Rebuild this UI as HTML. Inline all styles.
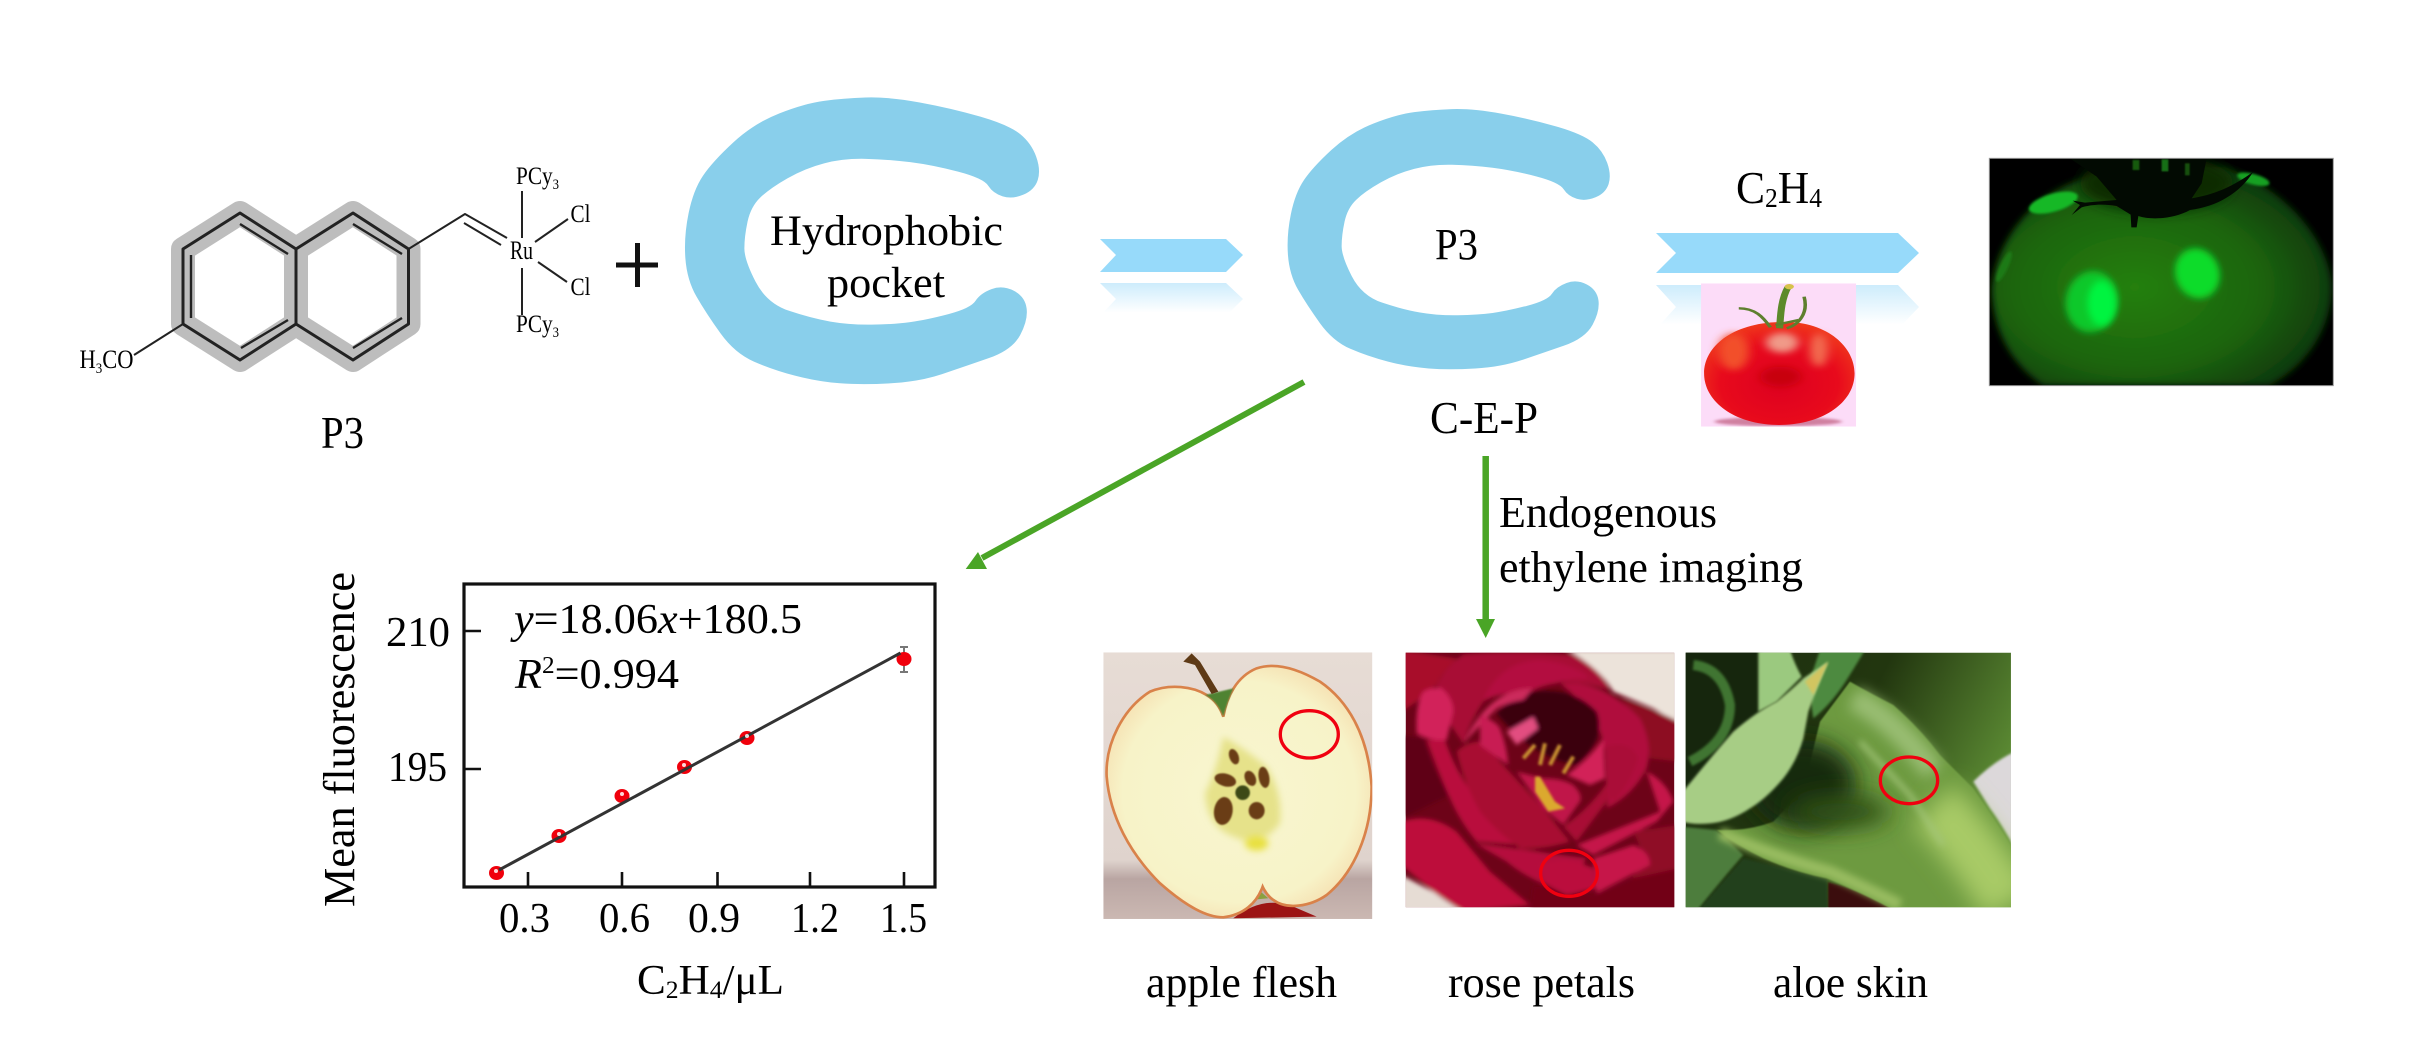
<!DOCTYPE html>
<html><head><meta charset="utf-8"><style>
html,body{margin:0;padding:0;background:#fff}
svg{display:block}
text{font-family:"Liberation Serif",serif;fill:#000}
</style></head><body>
<svg xmlns="http://www.w3.org/2000/svg" width="2410" height="1063" viewBox="0 0 2410 1063">
<defs>
<path id="c" d="M385,52.5Q420,50 470,67.5Q520,85 565,110Q610,135 627.5,162.5Q645,190 652.5,230Q660,270 655,300Q650,330 632.5,344Q615,358 600,349Q585,340 577.5,317.5Q570,295 530,275Q490,255 455,246.5Q420,238 385,236.5Q350,235 320,250Q290,265 262.5,295Q235,325 220,352.5Q205,380 200,425Q195,470 195,505Q195,540 212.5,605Q230,670 265,692.5Q300,715 330,725Q360,735 395,734Q430,733 455,726.5Q480,720 515,702.5Q550,685 557.5,662.5Q565,640 582.5,627.5Q600,615 617.5,632.5Q635,650 637.5,685Q640,720 627.5,765Q615,810 577.5,835Q540,860 505,882.5Q470,905 425,910Q380,915 345,910Q310,905 275,887.5Q240,870 210,845Q180,820 157.5,760Q135,700 120,650Q105,600 102.5,535Q100,470 107.5,400Q115,330 130,287.5Q145,245 177.5,187.5Q210,130 250,100Q290,70 320,62.5Q350,55 385,52.5Z"/>
<linearGradient id="fade" x1="0" y1="0" x2="0" y2="1"><stop offset="0" stop-color="#cdecfc"/><stop offset=".9" stop-color="#fff"/></linearGradient>
<radialGradient id="tom" cx=".5" cy=".6" r=".6"><stop offset="0" stop-color="#dd0020"/><stop offset=".65" stop-color="#e80a1c"/><stop offset="1" stop-color="#f0381c"/></radialGradient>
<radialGradient id="dome" cx=".42" cy=".55" r=".62"><stop offset="0" stop-color="#25800f"/><stop offset=".6" stop-color="#1c640c"/><stop offset="1" stop-color="#0d3406"/></radialGradient>
<linearGradient id="abg" x1="0" y1="0" x2="1" y2=".4"><stop offset="0" stop-color="#1d2f10"/><stop offset=".55" stop-color="#22360f"/><stop offset="1" stop-color="#5b8a33"/></linearGradient>
<linearGradient id="appbg" x1="0" y1="0" x2="0" y2="1"><stop offset="0" stop-color="#e7dcd5"/><stop offset=".78" stop-color="#dfd3cd"/><stop offset=".85" stop-color="#b9a5a2"/><stop offset="1" stop-color="#cbb8b2"/></linearGradient>
<radialGradient id="appf" cx=".5" cy=".5" r=".55"><stop offset="0" stop-color="#f8f6d0"/><stop offset=".8" stop-color="#f7f3c8"/><stop offset="1" stop-color="#f6dfb0"/></radialGradient>
<filter id="b2" x="-30%" y="-30%" width="160%" height="160%"><feGaussianBlur stdDeviation="2"/></filter>
<filter id="b4" x="-30%" y="-30%" width="160%" height="160%"><feGaussianBlur stdDeviation="4"/></filter>
<filter id="b6" x="-5%" y="-5%" width="110%" height="110%"><feGaussianBlur stdDeviation="6"/></filter>
<filter id="b10" x="-50%" y="-50%" width="200%" height="200%"><feGaussianBlur stdDeviation="10"/></filter>
<filter id="b20" x="-60%" y="-60%" width="220%" height="220%"><feGaussianBlur stdDeviation="20"/></filter>
<filter id="b35" x="-80%" y="-80%" width="260%" height="260%"><feGaussianBlur stdDeviation="35"/></filter>
<clipPath id="cpApple"><rect x="130" y="97" width="807" height="800"/></clipPath>
<clipPath id="cpRose"><rect x="17" y="23" width="806" height="764"/></clipPath>
<clipPath id="cpAloe"><rect x="17" y="23" width="976" height="764"/></clipPath>
<clipPath id="cpFl"><rect x="58" y="55" width="1032" height="682"/></clipPath>
<clipPath id="cpTom"><rect x="394" y="490" width="304" height="430"/></clipPath>
</defs>

<!-- Molecule -->
<g fill="none" stroke-linejoin="round">
<path d="M240,213L296,249L353,213L408.5,249L408.5,324L353,360L296,324L240,360L183,324L183,249Z M296,249L296,324" stroke="#bdbdbd" stroke-width="24"/>
<path d="M240,213L296,249L353,213L408.5,249L408.5,324L353,360L296,324L240,360L183,324L183,249Z M296,249L296,324" stroke="#222" stroke-width="3"/>
<path d="M240,224L288,254M191,255L191,318M241,348L288,320M353,224L402,254M353,348L402,318" stroke="#222" stroke-width="2.4"/>
<path d="M408.5,249L465,214L507,238M464,223L501,245M522,191L522,238M522,268L522,315M535,242L568,219M538,262L567,282M134,355L183,324" stroke="#222" stroke-width="2"/>
</g>
<text x="510" y="259" font-size="26" textLength="23" lengthAdjust="spacingAndGlyphs" fill="#111">Ru</text>
<text x="516" y="184" font-size="25" textLength="43" lengthAdjust="spacingAndGlyphs">PCy<tspan font-size="15" dy="5">3</tspan></text>
<text x="516" y="332" font-size="25" textLength="43" lengthAdjust="spacingAndGlyphs">PCy<tspan font-size="15" dy="5">3</tspan></text>
<text x="570.5" y="222" font-size="25" textLength="20" lengthAdjust="spacingAndGlyphs">Cl</text>
<text x="570.5" y="295" font-size="25" textLength="20" lengthAdjust="spacingAndGlyphs">Cl</text>
<text x="79.5" y="368" font-size="26" textLength="54" lengthAdjust="spacingAndGlyphs">H<tspan font-size="15" dy="5">3</tspan><tspan dy="-5">CO</tspan></text>
<text x="321" y="448" font-size="46" textLength="43" lengthAdjust="spacingAndGlyphs">P3</text>
<path d="M616,265H658M637.5,243V287" stroke="#111" stroke-width="5" fill="none"/>

<!-- C shapes -->
<g fill="#89cfeb">
<use href="#c" transform="translate(620,80) scale(.6378,.3333)"/>
<use href="#c" transform="translate(620,80) scale(.6378,.3333) translate(1045,85) scale(.91,.9075) translate(-100,-50)"/>
</g>
<text x="770" y="245" font-size="43" textLength="233" lengthAdjust="spacingAndGlyphs">Hydrophobic</text>
<text x="827" y="297" font-size="43" textLength="118" lengthAdjust="spacingAndGlyphs">pocket</text>
<text x="1435" y="259" font-size="44" textLength="43" lengthAdjust="spacingAndGlyphs">P3</text>
<text x="1430" y="433" font-size="46" textLength="108" lengthAdjust="spacingAndGlyphs">C-E-P</text>

<!-- block arrows -->
<polygon points="1100,239 1226,239 1243,255 1226,272 1100,272 1116,255" fill="#97dafa"/>
<polygon points="1100,283 1226,283 1243,299 1226,316 1100,316 1116,299" fill="url(#fade)"/>
<polygon points="1656,233 1898,233 1919,253 1898,273 1656,273 1676,253" fill="#97dafa"/>
<polygon points="1656,285 1898,285 1919,307 1898,329 1656,329 1676,307" fill="url(#fade)"/>
<text x="1736" y="203" font-size="46" textLength="86" lengthAdjust="spacingAndGlyphs">C<tspan font-size="27" dy="4">2</tspan><tspan dy="-4">H</tspan><tspan font-size="27" dy="4">4</tspan></text>

<!-- Tomato -->
<g transform="translate(1500,120) scale(.5102,.3333)" clip-path="url(#cpTom)">
<rect x="394" y="490" width="304" height="430" fill="#fcdcf8"/>
<ellipse cx="545" cy="905" rx="125" ry="14" fill="#d080a0" filter="url(#b4)"/>
<path d="M547,606C640,600 695,680 695,760C695,850 630,915 547,915C465,915 400,850 400,760C400,680 455,610 547,606Z" fill="url(#tom)"/>
<ellipse cx="553" cy="668" rx="32" ry="30" fill="#f09a88" filter="url(#b10)"/>
<ellipse cx="458" cy="695" rx="30" ry="55" fill="#f2502a" filter="url(#b10)"/>
<ellipse cx="625" cy="690" rx="18" ry="50" fill="#f26a50" filter="url(#b10)"/>
<ellipse cx="550" cy="770" rx="40" ry="30" fill="#c80010" filter="url(#b10)"/>
<path d="M565,500C550,540 550,590 548,625" stroke="#5c8a2a" stroke-width="14" fill="none"/>
<path d="M468,565C500,565 515,590 530,622M596,530C605,580 585,615 562,625M540,615L585,600" stroke="#5e7f2e" stroke-width="7" fill="none"/>
<ellipse cx="567" cy="500" rx="9" ry="8" fill="#d6c24a"/>
</g>

<!-- Fluorescence image -->
<g transform="translate(1970,140) scale(.3333)">
<g clip-path="url(#cpFl)">
<rect x="58" y="55" width="1032" height="682" fill="#000"/>
<path d="M65,450C80,280 220,120 420,100L760,80C920,130 1070,280 1085,430C1090,560 1010,680 900,737L220,737C120,670 70,570 65,450Z" fill="url(#dome)" filter="url(#b10)"/>
<ellipse cx="560" cy="130" rx="230" ry="85" fill="#0a2a05" filter="url(#b20)"/>
<ellipse cx="365" cy="485" rx="78" ry="92" transform="rotate(10 365 485)" fill="#10c82c" filter="url(#b10)"/>
<ellipse cx="395" cy="490" rx="42" ry="68" fill="#04f440" filter="url(#b10)"/>
<ellipse cx="682" cy="400" rx="66" ry="76" transform="rotate(-20 682 400)" fill="#0bdc2c" filter="url(#b10)"/>
<ellipse cx="250" cy="188" rx="76" ry="27" transform="rotate(-16 250 188)" fill="#14b828" filter="url(#b4)"/>
<ellipse cx="850" cy="118" rx="50" ry="16" transform="rotate(15 850 118)" fill="#14a024" filter="url(#b4)"/>
<ellipse cx="102" cy="380" rx="12" ry="50" transform="rotate(25 102 380)" fill="#1f7a18" filter="url(#b4)"/>
<path d="M300,55L710,55L695,130L665,175C730,165 790,140 850,95C810,160 740,200 660,210C610,238 540,240 505,228L500,262L484,262L482,224L440,198C395,190 360,195 335,202L305,225L330,195L308,182L345,188L440,180L380,110Z" fill="#020a02"/>
<rect x="488" y="60" width="20" height="30" fill="#155a10" filter="url(#b2)"/><rect x="575" y="58" width="20" height="36" fill="#177012" filter="url(#b2)"/><rect x="645" y="70" width="14" height="36" fill="#125010" filter="url(#b2)"/>
</g>
<rect x="58" y="55" width="1032" height="682" fill="none" stroke="#999" stroke-width="3"/>
</g>

<!-- Green arrows -->
<path d="M1304,382L982,558" stroke="#4aa526" stroke-width="6" fill="none"/>
<polygon points="965.7,569 978,552 987,569" fill="#4aa526"/>
<path d="M1485.7,456V622" stroke="#4aa526" stroke-width="6.5" fill="none"/>
<polygon points="1476,619 1495,619 1485.7,638" fill="#4aa526"/>
<text x="1499" y="527" font-size="44" textLength="218" lengthAdjust="spacingAndGlyphs">Endogenous</text>
<text x="1499" y="582" font-size="44" textLength="304" lengthAdjust="spacingAndGlyphs">ethylene imaging</text>

<!-- Plot -->
<rect x="464" y="584" width="471" height="303" fill="#fff" stroke="#111" stroke-width="3.2"/>
<path d="M464,631H481M464,769H481M528,872V887M622,872V887M717.5,872V887M810,872V887M904,872V887" stroke="#111" stroke-width="2.6" fill="none"/>
<text x="386" y="646" font-size="42" textLength="64" lengthAdjust="spacingAndGlyphs">210</text>
<text x="388" y="781" font-size="42" textLength="59" lengthAdjust="spacingAndGlyphs">195</text>
<text x="499" y="932" font-size="42" textLength="51" lengthAdjust="spacingAndGlyphs">0.3</text>
<text x="599" y="932" font-size="42" textLength="51" lengthAdjust="spacingAndGlyphs">0.6</text>
<text x="688" y="932" font-size="42" textLength="52" lengthAdjust="spacingAndGlyphs">0.9</text>
<text x="791" y="932" font-size="42" textLength="48" lengthAdjust="spacingAndGlyphs">1.2</text>
<text x="880" y="932" font-size="42" textLength="47" lengthAdjust="spacingAndGlyphs">1.5</text>
<text x="637" y="994" font-size="42" textLength="147" lengthAdjust="spacingAndGlyphs">C<tspan font-size="25" dy="4">2</tspan><tspan dy="-4">H</tspan><tspan font-size="25" dy="4">4</tspan><tspan dy="-4">/μL</tspan></text>
<text transform="translate(354,907) rotate(-90)" font-size="44" textLength="335" lengthAdjust="spacingAndGlyphs">Mean fluorescence</text>
<text x="514" y="633" font-size="42" textLength="288" lengthAdjust="spacingAndGlyphs"><tspan font-style="italic">y</tspan>=18.06<tspan font-style="italic">x</tspan>+180.5</text>
<text x="515" y="688" font-size="42" textLength="164" lengthAdjust="spacingAndGlyphs"><tspan font-style="italic">R</tspan><tspan font-size="24" dy="-15">2</tspan><tspan dy="15">=0.994</tspan></text>
<path d="M904,647V672M900,647H908M900,672H908" stroke="#777" stroke-width="2" fill="none"/>
<g fill="#f0000c">
<ellipse cx="496.5" cy="873" rx="7.5" ry="7"/><ellipse cx="559" cy="836" rx="7.5" ry="7"/><ellipse cx="622" cy="796" rx="7.5" ry="7"/><ellipse cx="684.5" cy="767" rx="7.5" ry="7"/><ellipse cx="747" cy="738" rx="7.5" ry="7"/><ellipse cx="904" cy="659" rx="7.5" ry="7"/>
</g>
<path d="M499,870L900.5,653" stroke="#333" stroke-width="3" fill="none"/>
<g fill="#fff" opacity=".85"><circle cx="496" cy="871" r="2"/><circle cx="559" cy="834" r="2"/><circle cx="622" cy="794" r="2"/><circle cx="684" cy="765" r="2"/><circle cx="747" cy="736" r="2"/></g>

<!-- Apple -->
<g transform="translate(1060,620) scale(.3333)" clip-path="url(#cpApple)">
<rect x="130" y="97" width="807" height="800" fill="url(#appbg)"/>
<path d="M520,895Q610,825 700,860L770,890Z" fill="#9c1414"/>
<path d="M590,805L625,835L570,840Z" fill="#8aa040"/>
<path d="M490,290C500,230 530,170 590,145C650,125 720,150 780,185C860,240 925,340 935,500C935,640 880,760 800,825C750,860 680,870 640,840C625,830 615,815 608,800C590,850 550,885 490,892C440,892 380,860 300,790C210,700 150,590 140,470C135,370 190,265 270,215C330,190 400,200 440,225C465,240 480,260 490,290Z" fill="url(#appf)" stroke="#d9824a" stroke-width="8"/>
<path d="M435,225L520,205Q500,250 490,290Q470,240 435,225Z" fill="#4f8330" filter="url(#b2)"/>
<path d="M370,125L395,100L420,125L475,215L455,222L405,135Z" fill="#5e3a16"/>
<path d="M490,350Q560,390 620,440Q670,520 660,610Q600,690 520,650Q440,620 435,520Q470,450 490,350Z" fill="#e6e28a" filter="url(#b10)"/>
<ellipse cx="590" cy="670" rx="35" ry="22" fill="#e8e040" filter="url(#b10)"/>
<ellipse cx="548" cy="518" rx="22" ry="22" fill="#3d4a15" filter="url(#b2)"/>
<g fill="#6a3d16" filter="url(#b2)">
<ellipse cx="522" cy="410" rx="14" ry="24" transform="rotate(-20 522 410)"/>
<ellipse cx="496" cy="480" rx="33" ry="19" transform="rotate(15 496 480)"/>
<ellipse cx="571" cy="475" rx="16" ry="24" transform="rotate(-25 571 475)"/>
<ellipse cx="612" cy="472" rx="16" ry="32" transform="rotate(-10 612 472)"/>
<ellipse cx="490" cy="573" rx="28" ry="42" transform="rotate(8 490 573)"/>
<ellipse cx="590" cy="572" rx="24" ry="26"/>
</g>
<ellipse cx="748" cy="343" rx="87" ry="71" fill="none" stroke="#f00010" stroke-width="10"/>
</g>

<!-- Rose -->
<g transform="translate(1400,645) scale(.3333)" clip-path="url(#cpRose)">
<rect x="17" y="23" width="806" height="764" fill="#6d0318"/>
<g filter="url(#b6)">
<path d="M500,15H835V235L760,190L640,140Q600,70 500,15Z" fill="#ece3da"/>
<path d="M5,690Q60,720 100,740Q140,770 190,800H5Z" fill="#e6dcd4"/>
<path d="M5,15L170,40Q120,90 110,120L50,170L5,200Z" fill="#a80c2c"/>
<path d="M5,270L70,280Q100,380 150,450L5,520Z" fill="#5e0212"/>
<path d="M190,28Q330,15 520,30Q600,70 630,135Q480,90 390,130Q300,140 250,170Q210,230 190,295Q150,240 130,200L110,120Q140,60 190,28Z" fill="#a80c35"/>
<path d="M250,165Q300,50 420,45Q520,55 570,100Q510,100 470,115Q430,120 390,140Q320,140 250,165Z" fill="#b31040"/>
<path d="M660,160Q760,190 835,230V350L750,340Q730,230 660,160Z" fill="#8d0a22"/>
<path d="M480,115Q600,100 720,220Q760,300 740,370Q700,450 620,490Q640,380 610,300Q600,210 480,115Z" fill="#b0103c"/>
<path d="M290,205Q340,150 400,140Q520,125 590,200Q620,280 530,360Q400,340 290,205Z" fill="#3a0008"/>
<path d="M190,295Q220,230 260,190Q320,130 400,130L370,165Q330,170 290,190Q240,240 190,295Z" fill="#cc2a5c"/>
<path d="M50,265Q45,180 70,140Q100,125 125,130Q160,160 160,200L140,285Q90,290 50,265Z" fill="#d2235a"/>
<path d="M80,285L135,285Q160,360 200,420Q280,520 360,600L230,590Q180,530 150,460Q110,370 80,285Z" fill="#b90f3c"/>
<path d="M170,320Q200,290 240,290Q280,320 300,350L430,490L510,590Q430,615 360,610Q290,560 240,500Q190,410 170,320Z" fill="#a80b33"/>
<path d="M240,210Q290,230 300,250Q320,300 325,360L240,300Z" fill="#c81b52"/>
<path d="M320,260L400,215L415,250L350,300Z" fill="#e24d80"/>
<path d="M350,380L430,400Q490,400 520,420Q550,450 540,470L490,540L430,490Z" fill="#c0184a"/>
<path d="M490,545Q580,480 630,400Q630,450 620,470L530,590Z" fill="#a80c36"/>
<path d="M500,390Q570,340 610,280L615,400L570,420Z" fill="#d22458"/>
<path d="M615,305Q690,280 715,340Q690,420 640,470L620,440Z" fill="#aa0e38"/>
<path d="M530,600Q680,540 780,500L740,380Q800,410 820,470L770,530L580,630Z" fill="#c5174a"/>
<path d="M700,560L835,540V700L640,760L740,650Z" fill="#8f0a25"/>
<path d="M225,595Q350,610 450,625L560,640L500,740Q390,710 320,650Z" fill="#b50e3c"/>
<path d="M580,640L700,600Q750,620 750,660L590,745Z" fill="#c6164a"/>
<path d="M5,530Q90,500 170,560L270,680L390,780L190,800L100,740L5,660Z" fill="#bd0f3a"/>
<path d="M400,720L590,750L700,700L835,670V800H390Z" fill="#720418"/>
<path d="M420,660Q500,630 580,670L590,730L500,750L440,720Z" fill="#bb0f3d"/>
</g>
<path d="M405,395L420,395L465,470L495,490L445,500L405,440Z" fill="#dba92e" filter="url(#b4)"/>
<path d="M370,340L405,300M420,360L435,295M450,360L480,300M490,385L520,335" stroke="#c89030" stroke-width="12" fill="none" filter="url(#b4)"/>
<ellipse cx="507" cy="685" rx="85" ry="69" fill="none" stroke="#f00010" stroke-width="10"/>
</g>

<!-- Aloe -->
<g transform="translate(1680,645) scale(.3333)" clip-path="url(#cpAloe)">
<rect x="17" y="23" width="976" height="764" fill="url(#abg)"/>
<rect x="0" y="0" width="240" height="430" fill="#15260c" filter="url(#b6)"/>
<path d="M880,410Q940,350 1005,320V610Q960,530 930,490Z" fill="#dcd8da" filter="url(#b4)"/>
<path d="M40,60Q130,70 150,180Q150,290 30,350" stroke="#3f7530" stroke-width="30" fill="none" filter="url(#b4)"/>
<path d="M235,15H330Q345,60 365,95Q320,140 290,170L235,200Z" fill="#9bc97f" filter="url(#b4)"/>
<path d="M420,15H555Q510,90 490,120Q450,180 400,220L385,120Z" fill="#4d8a3f" filter="url(#b4)"/>
<path d="M5,545L110,555Q150,590 190,630Q120,710 50,800H5Z" fill="#4e7d3e" filter="url(#b4)"/>
<path d="M190,640L440,700L445,800H50Z" fill="#21401a" filter="url(#b4)"/>
<path d="M445,712Q560,740 650,800H445Z" fill="#3a0a0a" filter="url(#b2)"/>
<path d="M510,110Q580,150 640,180Q720,250 780,330Q830,380 880,430Q950,530 1005,620V800H650Q540,740 440,700Q340,680 250,640Q170,600 110,555Q200,560 280,530Q340,470 380,400Q400,310 420,230Z" fill="#6d9a40" filter="url(#b2)"/>
<ellipse cx="370" cy="420" rx="160" ry="135" fill="#162c0d" filter="url(#b35)"/>
<ellipse cx="480" cy="500" rx="150" ry="50" fill="#2e5019" filter="url(#b35)"/>
<path d="M520,160Q650,230 760,380" stroke="#99bd72" stroke-width="70" fill="none" filter="url(#b20)"/>
<path d="M120,565Q300,640 450,680Q560,730 660,780" stroke="#98bc60" stroke-width="36" fill="none" filter="url(#b10)"/>
<path d="M760,480Q880,600 990,780" stroke="#a8ca66" stroke-width="170" fill="none" filter="url(#b35)"/>
<path d="M540,290L690,450L790,600" stroke="#a5c77c" stroke-width="12" fill="none" filter="url(#b10)"/>
<path d="M17,430Q90,340 160,260Q230,200 290,170Q340,130 370,100L445,50Q410,130 385,200L370,280Q350,350 310,400Q260,460 210,490Q150,530 90,535Q40,540 5,530V440Z" fill="#a7cd85" filter="url(#b4)"/>
<path d="M375,110L445,50L400,150Z" fill="#d2c560" filter="url(#b4)"/>
<ellipse cx="687" cy="406" rx="86" ry="70" fill="none" stroke="#f00010" stroke-width="10"/>
</g>

<text x="1146" y="997" font-size="44" textLength="191" lengthAdjust="spacingAndGlyphs">apple flesh</text>
<text x="1448" y="997" font-size="44" textLength="187" lengthAdjust="spacingAndGlyphs">rose petals</text>
<text x="1773" y="997" font-size="44" textLength="155" lengthAdjust="spacingAndGlyphs">aloe skin</text>
</svg>
</body></html>
